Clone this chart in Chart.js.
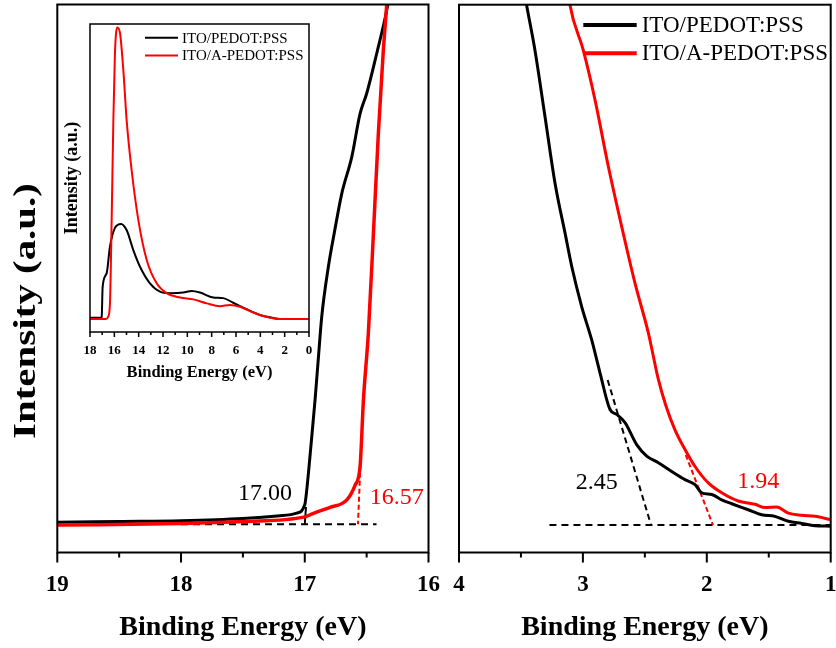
<!DOCTYPE html>
<html>
<head>
<meta charset="utf-8">
<script src="https://cdn.jsdelivr.net/npm/chart.js@4.4.0/dist/chart.umd.min.js"></script>
<style>
  html, body { margin: 0; padding: 0; background: #fff; overflow: hidden; }
  #wrap { position: relative; width: 836px; height: 648px; }
  canvas { position: absolute; }
</style>
</head>
<body>
<div id="wrap">
  <canvas id="leftChart" width="450" height="648" style="left:0;top:0"></canvas>
  <canvas id="rightChart" width="406" height="648" style="left:440px;top:0"></canvas>
  <canvas id="insetChart" width="270" height="380" style="left:50px;top:16px"></canvas>
</div>
<script>
const SERIF = "'Times New Roman', 'Liberation Serif', serif";
const names = ["ITO/PEDOT:PSS", "ITO/A-PEDOT:PSS"];

// left panel: secondary electron cut-off (binding energy eV / intensity a.u.)
const cutBlackE = [19.0, 18.5, 18.0, 17.5, 17.2, 17.065, 17.0, 16.984, 16.95, 16.917, 16.89, 16.863, 16.809, 16.76, 16.701, 16.62, 16.553, 16.499, 16.418, 16.337, 16.31];
const cutBlackI = [5.5, 5.65, 5.8, 6.2, 6.7, 7.2, 8.7, 11.4, 19.5, 27.8, 35.5, 43.0, 52.2, 58.5, 65.5, 72.2, 80.1, 83.8, 91.1, 99.0, 102.5];
const cutRedE = [19.0, 18.0, 17.5, 17.0, 16.93, 16.8, 16.66, 16.593, 16.553, 16.526, 16.486, 16.445, 16.405, 16.365, 16.337, 16.327];
const cutRedI = [5.0, 5.3, 5.66, 6.5, 7.15, 8.2, 9.6, 12.3, 15.7, 27.8, 40.1, 58.3, 76.6, 91.7, 100.2, 103.6];
const cutBaseE = [18.0, 16.42];
const cutBaseI = [5.15, 5.15];
const cutBlackFitE = [16.99, 17.0];
const cutBlackFitI = [8.3, 5.15];
const cutRedFitE = [16.55, 16.57];
const cutRedFitI = [16.0, 5.15];
const cutTicks = [19, 18, 17, 16];
const cutMinor = [18.5, 17.5, 16.5];

// right panel: valence band onset
const vbBlackE = [3.475, 3.454, 3.387, 3.306, 3.225, 3.144, 3.09, 3.01, 2.929, 2.862, 2.781, 2.727, 2.66, 2.566, 2.485, 2.391, 2.283, 2.176, 2.095, 2.041, 1.96, 1.88, 1.799, 1.665, 1.557, 1.45, 1.342, 1.234, 1.127, 1.0];
const vbBlackI = [102.7, 99.9, 91.7, 79.6, 67.4, 58.3, 52.2, 44.9, 38.8, 32.8, 26.1, 25.2, 23.7, 19.7, 17.6, 16.4, 14.8, 13.3, 12.4, 10.9, 10.6, 9.6, 8.9, 7.8, 6.9, 6.6, 5.7, 5.3, 4.9, 4.8];
const vbRedE = [3.12, 3.104, 2.997, 2.902, 2.795, 2.687, 2.58, 2.472, 2.39, 2.33, 2.257, 2.176, 2.095, 1.988, 1.88, 1.746, 1.611, 1.53, 1.436, 1.342, 1.234, 1.127, 1.0];
const vbRedI = [102.7, 99.9, 91.7, 82.6, 70.5, 59.5, 49.2, 40.1, 31.5, 26.8, 22.4, 18.8, 15.7, 12.7, 10.9, 9.4, 8.8, 8.2, 8.3, 7.2, 6.8, 6.6, 6.0];
const vbBaseE = [3.27, 1.0];
const vbBaseI = [5.0, 5.0];
const vbBlackFitE = [2.80, 2.45];
const vbBlackFitI = [31.5, 5.0];
const vbRedFitE = [2.17, 1.95];
const vbRedFitI = [17.8, 5.0];
const vbTicks = [4, 3, 2, 1];
const vbMinor = [3.5, 2.5, 1.5];

// inset: full UPS spectrum
const fullBlackE = [18.0, 17.1, 17.04, 16.96, 16.63, 16.36, 15.95, 15.45, 14.99, 14.44, 13.89, 13.07, 12.25, 11.43, 10.33, 9.64, 8.96, 7.87, 7.05, 6.23, 5.12, 4.03, 2.39];
const fullBlackI = [4.6, 4.6, 4.8, 14.7, 19.1, 27.7, 33.8, 35.1, 33.1, 26.6, 21.2, 15.8, 13.1, 12.6, 12.8, 13.3, 12.8, 11.2, 11.0, 9.5, 7.4, 5.5, 4.2];
const fullRedE = [18.0, 16.7, 16.5, 16.36, 16.22, 16.08, 15.95, 15.75, 15.53, 15.26, 14.99, 14.58, 14.03, 13.34, 12.52, 11.7, 10.6, 9.51, 8.41, 7.32, 6.5, 5.67, 4.85, 3.76, 2.39, 0.0];
const fullRedI = [4.2, 4.2, 5.0, 9.3, 36.4, 68.8, 90.5, 98.9, 97.0, 85.0, 68.8, 52.6, 36.4, 23.4, 15.8, 12.6, 11.2, 10.6, 9.3, 8.4, 8.8, 8.2, 6.8, 5.2, 4.2, 4.2];
const fullTicks = [18, 16, 14, 12, 10, 8, 6, 4, 2, 0];
const fullMinor = [17, 15, 13, 11, 9, 7, 5, 3, 1];

const pts = (xs, ys) => xs.map((v, i) => ({ x: v, y: ys[i] }));

function line(label, xs, ys, color, width, dash) {
  return {
    label, data: pts(xs, ys), borderColor: color, backgroundColor: color,
    borderWidth: width, borderDash: dash || [], showLine: true,
    pointRadius: 0, fill: false,
    cubicInterpolationMode: dash ? 'default' : 'monotone', tension: 0
  };
}

// box, outward ticks, notes and legend
const framePlugin = {
  id: 'frame',
  beforeDraw(chart, args, opts) {
    if (!opts.fill) return;
    const { ctx, chartArea: a } = chart;
    ctx.save();
    ctx.fillStyle = opts.fill;
    ctx.fillRect(a.left, a.top, a.right - a.left, a.bottom - a.top);
    ctx.restore();
  },
  afterDraw(chart, args, opts) {
    const { ctx, chartArea: a, scales: { x, y } } = chart;
    ctx.save();
    ctx.strokeStyle = '#000';
    ctx.lineWidth = opts.lineWidth;
    ctx.strokeRect(a.left, a.top, a.right - a.left, a.bottom - a.top);
    ctx.beginPath();
    opts.major.forEach(v => {
      const px = x.getPixelForValue(v);
      ctx.moveTo(px, a.bottom); ctx.lineTo(px, a.bottom + opts.majorLen);
    });
    opts.minor.forEach(v => {
      const px = x.getPixelForValue(v);
      ctx.moveTo(px, a.bottom); ctx.lineTo(px, a.bottom + opts.minorLen);
    });
    ctx.stroke();

    ctx.textAlign = 'center';
    ctx.textBaseline = 'middle';
    (opts.notes || []).forEach(n => {
      ctx.font = n.font;
      ctx.fillStyle = n.color;
      ctx.fillText(n.text, x.getPixelForValue(n.e), y.getPixelForValue(n.i));
    });

    const lg = opts.legend;
    if (lg) {
      ctx.font = lg.font;
      ctx.textAlign = 'left';
      lg.items.forEach((idx, k) => {
        const ds = chart.data.datasets[idx];
        const yy = lg.y + k * lg.rowH;
        ctx.strokeStyle = ds.borderColor;
        ctx.lineWidth = lg.lineWidth;
        ctx.beginPath();
        ctx.moveTo(lg.x, yy); ctx.lineTo(lg.x + lg.lineLen, yy);
        ctx.stroke();
        ctx.fillStyle = '#000';
        ctx.fillText(ds.label, lg.x + lg.lineLen + lg.gap, yy + 1);
      });
    }

    if (opts.yTitle) {
      const t = opts.yTitle;
      ctx.font = t.font;
      ctx.fillStyle = '#000';
      ctx.textAlign = 'center';
      ctx.translate(t.x, t.y);
      ctx.rotate(-Math.PI / 2);
      ctx.scale(t.span / ctx.measureText(t.text).width, 1);
      ctx.fillText(t.text, 0, 0);
    }
    ctx.restore();
  }
};

function noEdgePadding(s) {
  s.paddingLeft = 0; s.paddingRight = 0;
}

function mainOptions(min, max, ticks, yWidth, padRight, padTop, frame) {
  return {
    responsive: false,
    animation: false,
    layout: { padding: { left: 0, right: padRight, top: padTop, bottom: 0 } },
    plugins: { legend: { display: false }, tooltip: { enabled: false }, frame },
    scales: {
      x: {
        type: 'linear', min, max, reverse: true,
        afterBuildTicks: s => { s.ticks = ticks.map(v => ({ value: v })); },
        afterFit: s => { s.height = 95.5; noEdgePadding(s); },
        grid: { display: false, drawTicks: false },
        border: { display: false },
        ticks: { padding: 19, color: '#000', maxRotation: 0, autoSkip: false,
                 font: { family: SERIF, size: 23, weight: 'bold' } },
        title: { display: true, text: 'Binding Energy (eV)', color: '#000',
                 font: { family: SERIF, size: 28, weight: 'bold' },
                 padding: { top: 0, bottom: 3.5 } }
      },
      y: {
        type: 'linear', min: 0, max: 100,
        afterFit: s => { s.width = yWidth; s.paddingTop = 0; s.paddingBottom = 0; },
        grid: { display: false, drawTicks: false },
        border: { display: false },
        ticks: { display: false }
      }
    }
  };
}

new Chart(document.getElementById('leftChart'), {
  type: 'scatter',
  data: { datasets: [
    line(names[1], cutRedE, cutRedI, '#ff0000', 3.5),
    line(names[0], cutBlackE, cutBlackI, '#000000', 3),
    line('', cutRedFitE, cutRedFitI, '#ff0000', 2, [5, 3]),
    line('', cutBaseE, cutBaseI, '#000000', 2, [7, 5]),
    line('', cutBlackFitE, cutBlackFitI, '#000000', 2, [20, 0])
  ] },
  options: mainOptions(16, 19, cutTicks, 57.3, 21.5, 4.5, {
    lineWidth: 2, major: cutTicks, minor: cutMinor, majorLen: 10, minorLen: 5,
    notes: [
      { text: '17.00', e: 17.321, i: 10.8, color: '#000', font: '24px ' + SERIF },
      { text: '16.57', e: 16.256, i: 10.07, color: '#ff0000', font: '24px ' + SERIF }
    ],
    yTitle: { text: 'Intensity (a.u.)', x: 27, y: 311, span: 256, font: 'bold 32px ' + SERIF }
  }),
  plugins: [framePlugin]
});

new Chart(document.getElementById('rightChart'), {
  type: 'scatter',
  data: { datasets: [
    line(names[1], vbRedE, vbRedI, '#ff0000', 3),
    line(names[0], vbBlackE, vbBlackI, '#000000', 3),
    line('', vbRedFitE, vbRedFitI, '#ff0000', 2, [5, 3]),
    line('', vbBlackFitE, vbBlackFitI, '#000000', 2, [6, 4]),
    line('', vbBaseE, vbBaseI, '#000000', 2, [7, 5])
  ] },
  options: mainOptions(1, 4, vbTicks, 19, 15.3, 4.7, {
    lineWidth: 2, major: vbTicks, minor: vbMinor, majorLen: 10, minorLen: 5,
    notes: [
      { text: '2.45', e: 2.889, i: 12.7, color: '#000', font: '24px ' + SERIF },
      { text: '1.94', e: 1.584, i: 13.0, color: '#ff0000', font: '24px ' + SERIF }
    ],
    legend: { x: 143.3, y: 25, rowH: 28.3, lineLen: 53.4, gap: 5, lineWidth: 4,
              items: [1, 0], font: '23px ' + SERIF }
  }),
  plugins: [framePlugin]
});

new Chart(document.getElementById('insetChart'), {
  type: 'scatter',
  data: { datasets: [
    line(names[1], fullRedE, fullRedI, '#ff0000', 2),
    line(names[0], fullBlackE, fullBlackI, '#000000', 2)
  ] },
  options: {
    responsive: false,
    animation: false,
    layout: { padding: { left: 0, right: 11, top: 8, bottom: 0 } },
    plugins: {
      legend: { display: false }, tooltip: { enabled: false },
      frame: {
        fill: '#fff', lineWidth: 1.5, major: fullTicks, minor: fullMinor, majorLen: 5, minorLen: 3,
        legend: { x: 95, y: 21.8, rowH: 17.7, lineLen: 33, gap: 4, lineWidth: 2,
                  items: [1, 0], font: '15px ' + SERIF }
      }
    },
    scales: {
      x: {
        type: 'linear', min: 0, max: 18, reverse: true,
        afterBuildTicks: s => { s.ticks = fullTicks.map(v => ({ value: v })); },
        afterFit: s => { s.height = 64; noEdgePadding(s); },
        grid: { display: false, drawTicks: false },
        border: { display: false },
        ticks: { padding: 10.5, color: '#000', maxRotation: 0, autoSkip: false,
                 font: { family: SERIF, size: 13, weight: 'bold' } },
        title: { display: true, text: 'Binding Energy (eV)', color: '#000',
                 font: { family: SERIF, size: 16.5, weight: 'bold' },
                 padding: { top: 0, bottom: 13 } }
      },
      y: {
        type: 'linear', min: 0, max: 100,
        afterFit: s => { s.width = 40; s.paddingTop = 0; s.paddingBottom = 0; },
        grid: { display: false, drawTicks: false },
        border: { display: false },
        ticks: { display: false },
        title: { display: true, text: 'Intensity (a.u.)', color: '#000',
                 font: { family: SERIF, size: 18, weight: 'bold' },
                 padding: { top: 12, bottom: 0 } }
      }
    }
  },
  plugins: [framePlugin]
});
</script>
</body>
</html>
